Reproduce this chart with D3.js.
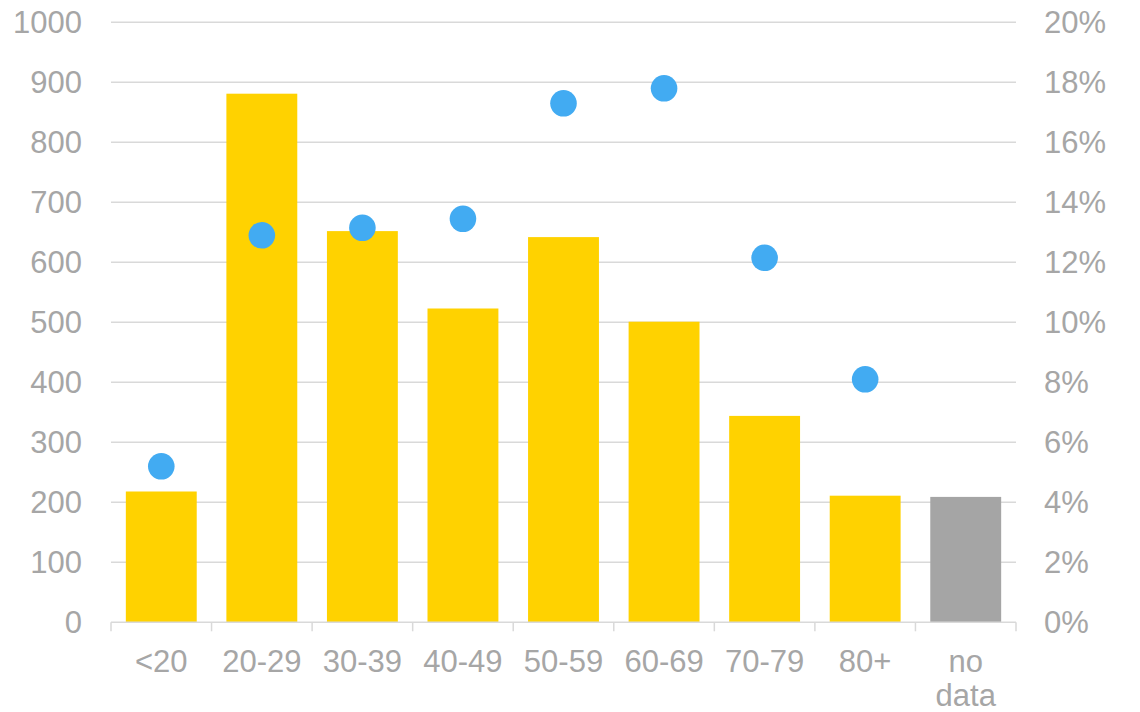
<!DOCTYPE html>
<html>
<head>
<meta charset="utf-8">
<script src="https://cdn.jsdelivr.net/npm/d3@7"></script>
<style>
  html, body { margin: 0; padding: 0; background: #fff; }
  svg { display: block; font-family: "Liberation Sans", Arial, sans-serif; }
</style>
</head>
<body>
<svg id="chart" width="1140" height="712"></svg>
<script>
// Age groups, counts (left axis) and shares (right axis, %)
const categories = ["<20", "20-29", "30-39", "40-49", "50-59", "60-69", "70-79", "80+", "no data"];
const counts = [218, 881, 652, 523, 642, 501, 344, 211, 209];
const shares = [5.2, 12.9, 13.15, 13.45, 17.3, 17.8, 12.15, 8.1, null];
const leftTicks = [0, 100, 200, 300, 400, 500, 600, 700, 800, 900, 1000];
const rightTicks = [0, 2, 4, 6, 8, 10, 12, 14, 16, 18, 20];

const svg = d3.select("#chart");
const margin = { top: 22.3, right: 124, bottom: 89.7, left: 111 };
const W = 1140, H = 712;
const innerW = W - margin.left - margin.right;
const innerH = H - margin.top - margin.bottom;

const g = svg.append("g").attr("transform", `translate(${margin.left},${margin.top})`);

const x = d3.scaleBand().domain(categories).range([0, innerW]).paddingInner(0.295).paddingOuter(0.1475);
const xb = d3.scaleBand().domain(categories).range([0, innerW]);
const yL = d3.scaleLinear().domain([0, 1000]).range([innerH, 0]);
const yR = d3.scaleLinear().domain([0, 20]).range([innerH, 0]);

const textColor = "#A6A6A6";
const gridColor = "#D9D9D9";

// horizontal gridlines
g.append("g")
  .selectAll("line")
  .data(leftTicks.filter(d => d > 0))
  .join("line")
  .attr("x1", 0).attr("x2", innerW)
  .attr("y1", d => yL(d)).attr("y2", d => yL(d))
  .attr("stroke", gridColor).attr("stroke-width", 1.5);

// bars
g.append("g")
  .selectAll("rect")
  .data(categories)
  .join("rect")
  .attr("x", d => x(d))
  .attr("width", x.bandwidth())
  .attr("y", (d, i) => yL(counts[i]))
  .attr("height", (d, i) => innerH - yL(counts[i]))
  .attr("fill", d => d === "no data" ? "#A5A5A5" : "#FFD200");

// x axis line and ticks at band boundaries
g.append("line")
  .attr("x1", 0).attr("x2", innerW)
  .attr("y1", innerH).attr("y2", innerH)
  .attr("stroke", gridColor).attr("stroke-width", 1.5);
const boundaries = categories.map(c => xb(c)).concat([innerW]);
g.append("g")
  .selectAll("line")
  .data(boundaries)
  .join("line")
  .attr("x1", d => d).attr("x2", d => d)
  .attr("y1", innerH).attr("y2", innerH + 9)
  .attr("stroke", gridColor).attr("stroke-width", 1.5);

// dots for shares
g.append("g")
  .selectAll("circle")
  .data(categories.filter((c, i) => shares[i] != null))
  .join("circle")
  .attr("cx", d => x(d) + x.bandwidth() / 2)
  .attr("cy", d => yR(shares[categories.indexOf(d)]))
  .attr("r", 13.3)
  .attr("fill", "#42ABF2");

// left axis labels
const fs = 31;
g.append("g")
  .selectAll("text")
  .data(leftTicks)
  .join("text")
  .attr("x", -29)
  .attr("y", d => yL(d))
  .attr("dy", "0.36em")
  .attr("text-anchor", "end")
  .attr("font-size", fs)
  .attr("fill", textColor)
  .text(d => d);

// right axis labels
g.append("g")
  .selectAll("text")
  .data(rightTicks)
  .join("text")
  .attr("x", innerW + 28)
  .attr("y", d => yR(d))
  .attr("dy", "0.36em")
  .attr("text-anchor", "start")
  .attr("font-size", fs)
  .attr("fill", textColor)
  .text(d => d + "%");

// category labels (multi-word labels wrap onto a second line)
const xl = g.append("g")
  .selectAll("text")
  .data(categories)
  .join("text")
  .attr("x", d => x(d) + x.bandwidth() / 2)
  .attr("y", innerH + 49.5)
  .attr("text-anchor", "middle")
  .attr("font-size", fs)
  .attr("fill", textColor);
xl.each(function(d) {
  const parts = d === "no data" ? ["no", "data"] : [d];
  const t = d3.select(this);
  parts.forEach((p, i) => {
    t.append("tspan")
      .attr("x", x(d) + x.bandwidth() / 2)
      .attr("dy", i === 0 ? 0 : 34)
      .text(p);
  });
});
</script>
</body>
</html>
